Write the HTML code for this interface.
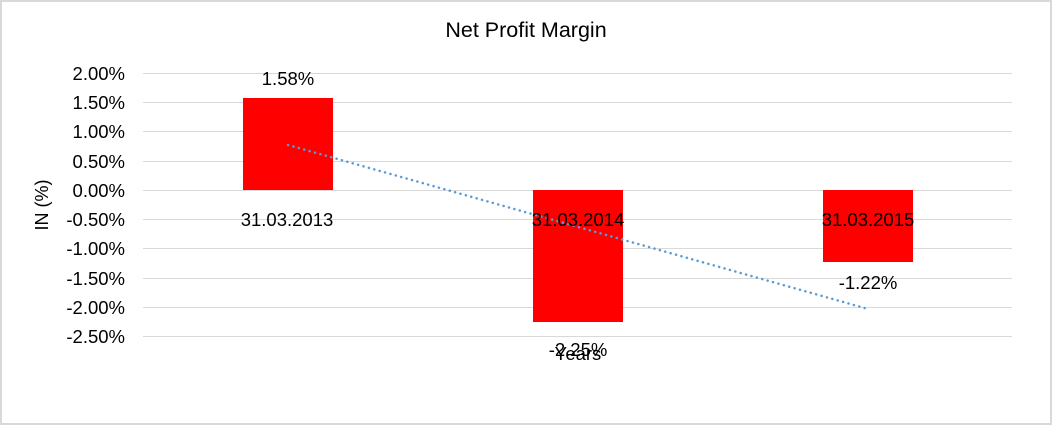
<!DOCTYPE html>
<html><head><style>
body{margin:0;background:#fff;}
svg text{font-family:"Liberation Sans",Arial,sans-serif;fill:#000;}
</style></head><body>
<svg width="1053" height="426" xmlns="http://www.w3.org/2000/svg">
<rect x="1" y="1" width="1050" height="423" fill="#fff" stroke="#d9d9d9" stroke-width="2"/>
<text x="526" y="37" font-size="21.5" text-anchor="middle">Net Profit Margin</text>
<g stroke="#d9d9d9" stroke-width="1">
<line x1="143" x2="1012" y1="73.5" y2="73.5"/>
<line x1="143" x2="1012" y1="102.5" y2="102.5"/>
<line x1="143" x2="1012" y1="131.5" y2="131.5"/>
<line x1="143" x2="1012" y1="161.5" y2="161.5"/>
<line x1="143" x2="1012" y1="190.5" y2="190.5"/>
<line x1="143" x2="1012" y1="219.5" y2="219.5"/>
<line x1="143" x2="1012" y1="248.5" y2="248.5"/>
<line x1="143" x2="1012" y1="278.5" y2="278.5"/>
<line x1="143" x2="1012" y1="307.5" y2="307.5"/>
<line x1="143" x2="1012" y1="336.5" y2="336.5"/>
</g>
<g font-size="18.5" text-anchor="end">
<text x="125" y="80">2.00%</text>
<text x="125" y="109">1.50%</text>
<text x="125" y="138">1.00%</text>
<text x="125" y="168">0.50%</text>
<text x="125" y="197">0.00%</text>
<text x="125" y="226">-0.50%</text>
<text x="125" y="255">-1.00%</text>
<text x="125" y="285">-1.50%</text>
<text x="125" y="314">-2.00%</text>
<text x="125" y="343">-2.50%</text>
</g>
<text transform="translate(48,205) rotate(-90)" font-size="18" text-anchor="middle">IN (%)</text>
<rect x="243" y="98" width="90" height="92" fill="#ff0000"/>
<rect x="533" y="190" width="90" height="132" fill="#ff0000"/>
<rect x="823" y="190" width="90" height="72" fill="#ff0000"/>
<line x1="288" y1="145" x2="868" y2="309" stroke="#5b9bd5" stroke-width="2.5" stroke-dasharray="0.1 5.5" stroke-linecap="round"/>
<g font-size="18.5" text-anchor="middle">
<text x="288" y="85">1.58%</text>
<text x="578" y="356">-2.25%</text>
<text x="868" y="289">-1.22%</text>
<text x="287" y="226">31.03.2013</text>
<text x="578" y="226">31.03.2014</text>
<text x="868" y="226">31.03.2015</text>
<text x="578" y="360">Years</text>
</g>
</svg>
</body></html>
